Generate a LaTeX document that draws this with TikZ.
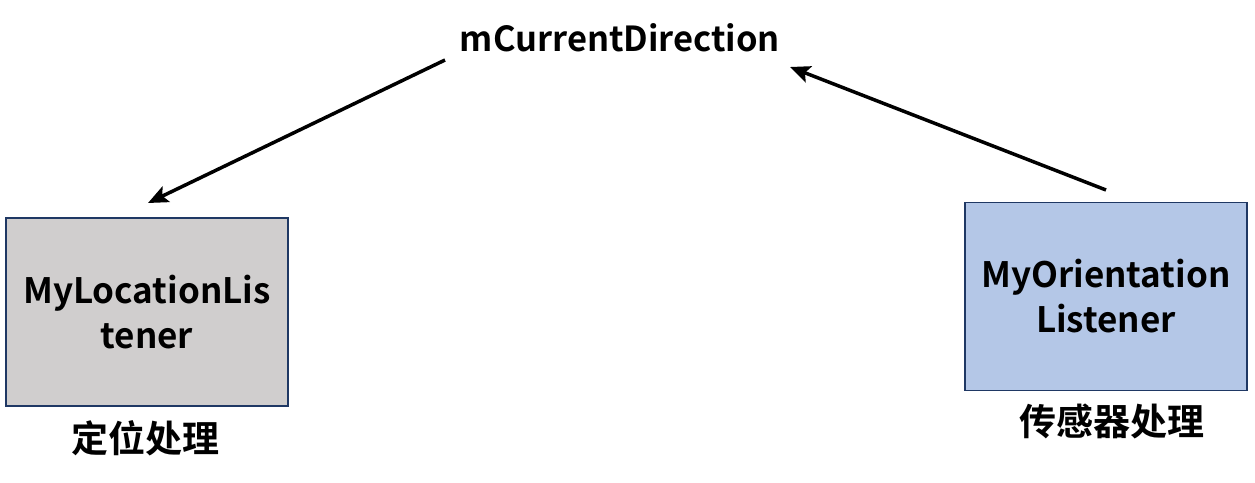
\documentclass[tikz,border=0pt]{standalone}
\usepackage{fontspec}
\setmainfont{Noto Sans CJK SC}[BoldFont={* Bold}]
\usetikzlibrary{arrows.meta}
\definecolor{boxline}{HTML}{1F3864}
\definecolor{grayfill}{HTML}{D0CECE}
\definecolor{bluefill}{HTML}{B4C7E7}
\tikzset{
  lbox/.style={draw=boxline, line width=1.6pt, minimum width=282pt, minimum height=188pt, inner sep=0pt, align=center, font=\fontsize{35}{45}\selectfont\bfseries},
  lbl/.style={font=\fontsize{37}{40}\selectfont\bfseries, inner sep=0pt},
  arr/.style={line width=3.5pt, -{Stealth[length=20pt,width=17pt,inset=4pt]}}
}
\begin{document}
\begin{tikzpicture}[x=1pt,y=-1pt]
\useasboundingbox (0,0) rectangle (1255,482);
\node[lbl, font=\fontsize{34.5}{36}\selectfont\bfseries] (dir) at (620,38) {mCurrentDirection};
\node[lbox, fill=grayfill] (loc) at (147,312) {MyLocationLis\\tener};
\node[lbox, fill=bluefill] (ori) at (1106,296.5) {MyOrientation\\Listener};
\node[lbl] (loclbl) at (145,438) {定位处理};
\node[lbl] (orilbl) at (1112,421) {传感器处理};
\coordinate (a1s) at (445,60);
\coordinate (a1e) at (148,203);
\coordinate (a2s) at (1106,190);
\coordinate (a2e) at (790,67);
\draw[arr] (a1s) -- (a1e);
\draw[arr] (a2s) -- (a2e);
\end{tikzpicture}
\end{document}
